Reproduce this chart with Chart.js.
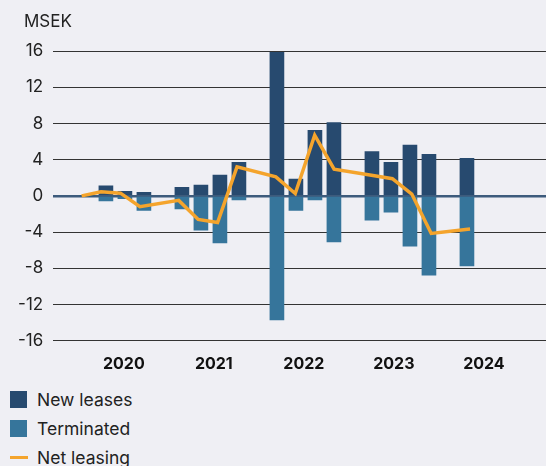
<!DOCTYPE html>
<html>
<head>
<meta charset="utf-8">
<script src="https://cdn.jsdelivr.net/npm/chart.js@4.4.1/dist/chart.umd.min.js"></script>
<style>
  html, body { margin: 0; padding: 0; background: #efeff4; }
  #wrap { position: relative; width: 546px; height: 466px; font-family: Inter, sans-serif; }
  #box { position: absolute; left: 0; top: 0; width: 546px; height: 385px; }
  #legend { position: absolute; left: 10px; top: 384.5px; color: #222; font-size: 17.5px; }
  .item { height: 29px; display: flex; align-items: center; }
  .sw { width: 17px; height: 17px; margin-right: 10px; }
  .ln { width: 18px; height: 3px; margin-right: 9px; }
</style>
</head>
<body>
<div id="wrap">
  <div id="box"><canvas id="chart"></canvas></div>
  <div id="legend"></div>
</div>
<script>
// quarterly slots, gaps (null) separate the years
const periods = ['Q4 19', 'Q1 20', 'Q2 20', 'Q3 20', '', 'Q4 20', 'Q1 21', 'Q2 21', 'Q3 21', '',
  'Q4 21', 'Q1 22', 'Q2 22', 'Q3 22', '', 'Q4 22', 'Q1 23', 'Q2 23', 'Q3 23', '', 'Q4 23'];
const newLeases = [0, 1.1, 0.5, 0.4, null, 0.95, 1.2, 2.3, 3.7, null,
  15.85, 1.85, 7.25, 8.1, null, 4.9, 3.7, 5.6, 4.6, null, 4.15];
const terminated = [0, -0.55, -0.3, -1.6, null, -1.45, -3.8, -5.2, -0.45, null,
  -13.7, -1.6, -0.45, -5.1, null, -2.7, -1.8, -5.55, -8.75, null, -7.75];
const netLeasing = [0, 0.45, 0.3, -1.2, null, -0.5, -2.6, -2.95, 3.2, null,
  2.1, 0.25, 6.7, 2.95, null, 2.25, 1.9, 0.2, -4.15, null, -3.65];
const years = [2020, 2021, 2022, 2023, 2024];
const yTicks = [-16, -12, -8, -4, 0, 4, 8, 12, 16];

const toPoints = arr => arr.map((v, i) => v === null ? null : {x: i, y: v}).filter(p => p);

const unitLabel = {
  id: 'unitLabel',
  afterDraw(chart) {
    const ctx = chart.ctx;
    ctx.save();
    ctx.font = '17px Inter, sans-serif';
    ctx.fillStyle = '#222';
    ctx.textBaseline = 'middle';
    ctx.fillText('MSEK', 24, 22);
    ctx.restore();
  }
};

const chart = new Chart(document.getElementById('chart'), {
  type: 'bar',
  data: {
    datasets: [
      {
        type: 'line', label: 'Net leasing', data: toPoints(netLeasing), xAxisID: 'xLine',
        borderColor: '#f4a42c', backgroundColor: '#f4a42c', borderWidth: 3.5,
        pointRadius: 0, tension: 0, spanGaps: true, order: 0
      },
      {
        label: 'New leases', data: toPoints(newLeases), xAxisID: 'xBar',
        backgroundColor: '#274a6f', barThickness: 14, grouped: false, order: 1
      },
      {
        label: 'Terminated', data: toPoints(terminated), xAxisID: 'xBar',
        backgroundColor: '#36759b', barThickness: 14, grouped: false, order: 1
      }
    ]
  },
  options: {
    animation: false,
    responsive: true,
    maintainAspectRatio: false,
    layout: {padding: {top: 51, right: 0, bottom: 6, left: 0}},
    plugins: {legend: {display: false}, tooltip: {enabled: false}},
    scales: {
      xBar: {type: 'linear', min: -1.8, max: 24.16, offset: false, display: false},
      xLine: {type: 'linear', min: -1.49, max: 23.91, offset: false, display: false},
      xYear: {
        type: 'linear', position: 'bottom', min: 2019.21, max: 2024.69, offset: false,
        grid: {display: false, drawTicks: false}, border: {display: false},
        afterBuildTicks: axis => { axis.ticks = years.map(v => ({value: v})); },
        afterFit: axis => { axis.height = 38.3; },
        ticks: {
          padding: 14, color: '#111', maxRotation: 0,
          font: {family: 'Inter', size: 16, weight: 'bold'},
          callback: v => String(v)
        }
      },
      y: {
        min: -16, max: 16,
        afterBuildTicks: axis => { axis.ticks = yTicks.map(v => ({value: v})); },
        afterFit: axis => { axis.width = 52.7; },
        border: {display: false},
        grid: {
          drawTicks: false,
          color: c => c.tick.value === 0 ? '#3d5b7c' : '#333',
          lineWidth: c => c.tick.value === 0 ? 2.5 : 1
        },
        ticks: {padding: 9.5, color: '#222', font: {family: 'Inter', size: 17}}
      }
    }
  },
  plugins: [unitLabel]
});

// vertical legend under the chart
const legend = document.getElementById('legend');
['New leases', 'Terminated', 'Net leasing'].forEach(name => {
  const ds = chart.data.datasets.find(d => d.label === name);
  const row = document.createElement('div');
  row.className = 'item';
  const mark = document.createElement('span');
  mark.className = ds.type === 'line' ? 'ln' : 'sw';
  mark.style.background = ds.type === 'line' ? ds.borderColor : ds.backgroundColor;
  row.appendChild(mark);
  row.appendChild(document.createTextNode(name));
  legend.appendChild(row);
});
</script>
</body>
</html>
